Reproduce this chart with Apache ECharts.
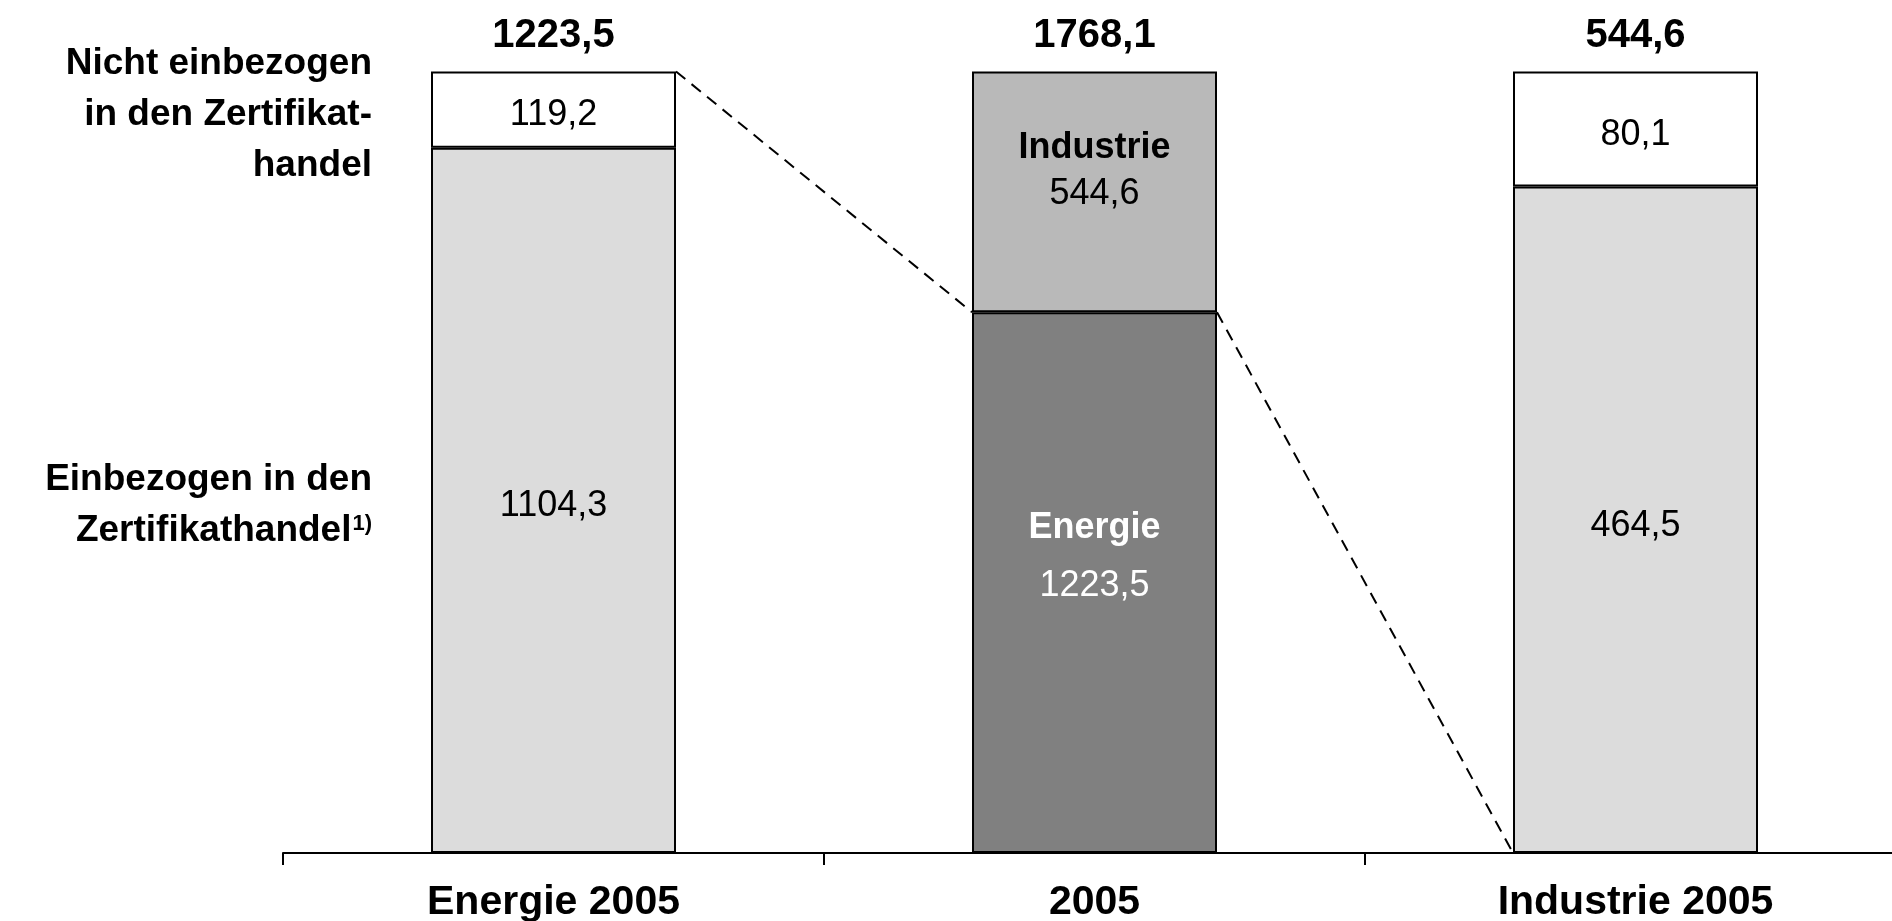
<!DOCTYPE html>
<html>
<head>
<meta charset="utf-8">
<script src="https://cdn.jsdelivr.net/npm/echarts@6/dist/echarts.min.js"></script>
<style>
  html, body { margin: 0; padding: 0; background: #ffffff; }
  #chart { width: 1892px; height: 921px; }
</style>
</head>
<body>
<div id="chart"></div>
<script>
// CO2-Emissionen 2005 (Mio. t): Aufteilung nach Sektor und Zertifikathandel
const categories = ['Energie 2005', '2005', 'Industrie 2005'];
// lower segment: included in trading (outer bars) / Energie (middle bar)
const lowerValues = [1104.3, 1223.5, 464.5];
// upper segment: not included in trading (outer bars) / Industrie (middle bar)
const upperValues = [119.2, 544.6, 80.1];
// segment names shown inside the middle bar
const middleLowerName = 'Energie';
const middleUpperName = 'Industrie';
// row labels to the left of the first bar
const rowLabelUpper = ['Nicht einbezogen', 'in den Zertifikat-', 'handel'];
const rowLabelLower = ['Einbezogen in den', 'Zertifikathandel'];
const rowLabelLowerNote = '1)';

const FONT = '"Liberation Sans", Arial, Helvetica, sans-serif';
const BAR_W = 245;
const VAL_SIZE = 36;

const totals = lowerValues.map((v, i) => v + upperValues[i]);
const lowerShare = lowerValues.map((v, i) => v / totals[i] * 100);
const upperShare = upperValues.map((v, i) => v / totals[i] * 100);
const fmt = v => v.toFixed(1).replace('.', ',');

const colLowerOuter = '#dcdcdc';
const colUpperOuter = '#ffffff';
const colLowerMid = '#808080';
const colUpperMid = '#b9b9b9';

const border = { borderColor: '#000000', borderWidth: 2 };

const lowerData = lowerShare.map((s, i) => {
  const mid = i === 1;
  return {
    value: s,
    itemStyle: Object.assign({ color: mid ? colLowerMid : colLowerOuter }, border),
    label: mid ? {
      formatter: '{n|' + middleLowerName + '}\n{v|' + fmt(lowerValues[i]) + '}',
      offset: [0, -26],
      rich: {
        n: { fontFamily: FONT, fontWeight: 'bold', fontSize: VAL_SIZE, color: '#ffffff', lineHeight: 58 },
        v: { fontFamily: FONT, fontSize: VAL_SIZE, color: '#ffffff', lineHeight: 58 }
      }
    } : { formatter: fmt(lowerValues[i]), offset: [0, 6] }
  };
});

const upperData = upperShare.map((s, i) => {
  const mid = i === 1;
  return {
    value: s,
    itemStyle: Object.assign({ color: mid ? colUpperMid : colUpperOuter }, border),
    label: mid ? {
      formatter: '{n|' + middleUpperName + '}\n{v|' + fmt(upperValues[i]) + '}',
      offset: [0, -21],
      rich: {
        n: { fontFamily: FONT, fontWeight: 'bold', fontSize: VAL_SIZE, color: '#000000', lineHeight: 46 },
        v: { fontFamily: FONT, fontSize: VAL_SIZE, color: '#000000', lineHeight: 46 }
      }
    } : { formatter: fmt(upperValues[i]), offset: [0, 6] }
  };
});

// dashed connectors: top of the Energie bar to the Energie part of 2005,
// Energie/Industrie split of 2005 down to the base of the Industrie bar
const connectors = [
  [0, 100, 1, lowerShare[1]],
  [1, lowerShare[1], 2, 0]
];

const chart = echarts.init(document.getElementById('chart'), null, { renderer: 'canvas' });

const option = {
  animation: false,
  backgroundColor: '#ffffff',
  grid: { left: 283, width: 1623, top: 71.5, bottom: 68, containLabel: false, outerBoundsMode: 'none' },
  xAxis: {
    type: 'category',
    data: categories,
    boundaryGap: true,
    axisLine: { show: true, lineStyle: { color: '#000000', width: 2 } },
    axisTick: { show: true, length: 12, inside: false, lineStyle: { color: '#000000', width: 2 } },
    axisLabel: {
      interval: 0,
      margin: 29,
      fontFamily: FONT,
      fontWeight: 'bold',
      fontSize: 41,
      color: '#000000'
    },
    splitLine: { show: false }
  },
  yAxis: {
    type: 'value',
    min: 0,
    max: 100,
    show: false
  },
  series: [
    {
      name: 'unten',
      type: 'bar',
      stack: 'anteil',
      barWidth: BAR_W,
      data: lowerData,
      label: {
        show: true,
        position: 'inside',
        fontFamily: FONT,
        fontSize: VAL_SIZE,
        color: '#000000'
      },
      z: 2
    },
    {
      name: 'oben',
      type: 'bar',
      stack: 'anteil',
      barWidth: BAR_W,
      data: upperData,
      label: {
        show: true,
        position: 'inside',
        fontFamily: FONT,
        fontSize: VAL_SIZE,
        color: '#000000'
      },
      z: 2
    },
    {
      // totals above each bar
      name: 'summe',
      type: 'scatter',
      data: totals.map(() => 100),
      symbolSize: 0,
      itemStyle: { opacity: 1 },
      label: {
        show: true,
        position: 'top',
        distance: 16,
        opacity: 1,
        formatter: p => fmt(totals[p.dataIndex]),
        fontFamily: FONT,
        fontWeight: 'bold',
        fontSize: 40,
        color: '#000000'
      },
      silent: true,
      z: 3
    },
    {
      name: 'verbindung',
      type: 'custom',
      data: connectors,
      encode: { x: [0, 2], y: [1, 3] },
      renderItem: function (params, api) {
        const a = api.coord([api.value(0), api.value(1)]);
        const b = api.coord([api.value(2), api.value(3)]);
        return {
          type: 'line',
          shape: { x1: a[0] + BAR_W / 2, y1: a[1], x2: b[0] - BAR_W / 2, y2: b[1] },
          style: { stroke: '#000000', lineWidth: 2, lineDash: [12, 8] }
        };
      },
      silent: true,
      z: 1
    }
  ]
};

chart.setOption(option);

// row labels left of the first bar, centred on its two segments
const firstLeft = chart.convertToPixel({ gridIndex: 0 }, [0, 0])[0] - BAR_W / 2;
const yUpper = chart.convertToPixel({ gridIndex: 0 }, [0, lowerShare[0] + upperShare[0] / 2])[1];
const yLower = chart.convertToPixel({ gridIndex: 0 }, [0, lowerShare[0] / 2])[1];
const labelX = firstLeft - 59;

chart.setOption({
  graphic: [
    {
      type: 'text',
      x: labelX,
      y: yUpper + 5,
      style: {
        text: rowLabelUpper.join('\n'),
        align: 'right',
        verticalAlign: 'middle',
        font: 'bold 37px ' + FONT,
        lineHeight: 51,
        fill: '#000000'
      }
    },
    {
      type: 'text',
      x: labelX,
      y: yLower + 5,
      style: {
        text: '{t|' + rowLabelLower[0] + '}\n{t|' + rowLabelLower[1] + '}{s|' + rowLabelLowerNote + '}',
        align: 'right',
        verticalAlign: 'middle',
        fill: '#000000',
        rich: {
          t: { fontFamily: FONT, fontWeight: 'bold', fontSize: 37, lineHeight: 51, fill: '#000000' },
          s: { fontFamily: FONT, fontWeight: 'bold', fontSize: 22, lineHeight: 51, verticalAlign: 'top', padding: [8, 0, 0, 1], fill: '#000000' }
        }
      }
    }
  ]
});
</script>
</body>
</html>
